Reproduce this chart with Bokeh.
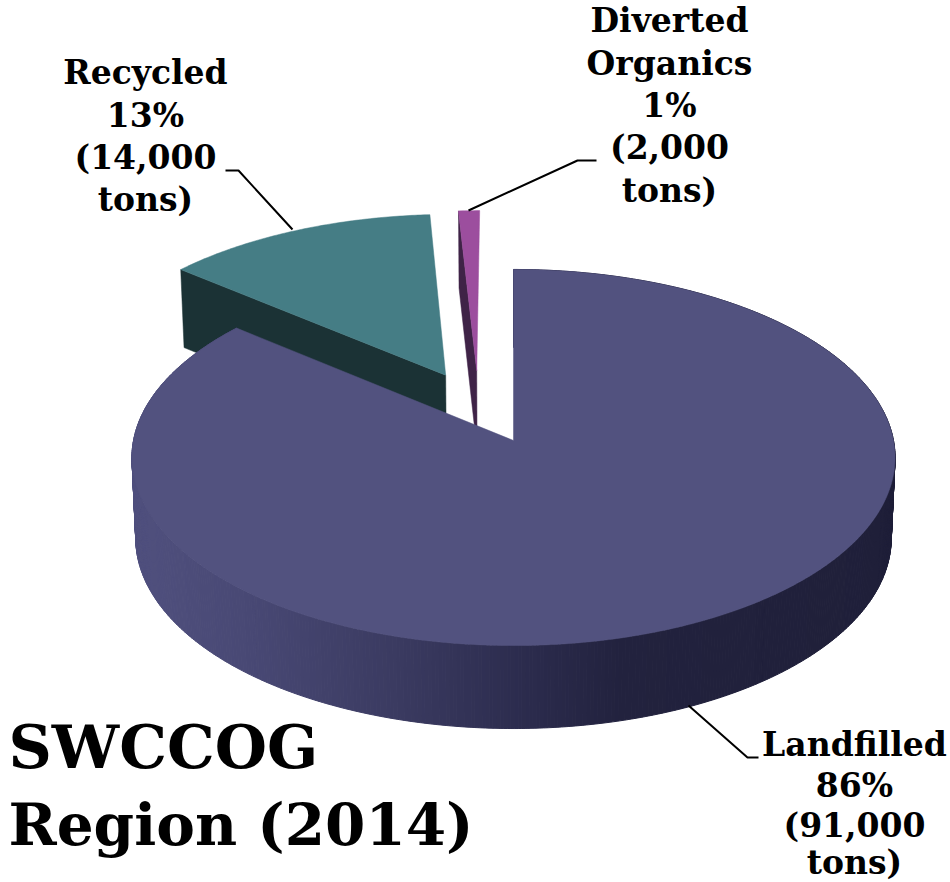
import numpy as np
from bokeh.plotting import figure
from bokeh.models import ColumnDataSource
from bokeh.core.properties import value
from bokeh.embed import file_html
from bokeh.resources import INLINE

# --- data
categories = ["Landfilled", "Recycled", "Diverted Organics"]
percents = [86, 13, 1]
tons = [91000, 14000, 2000]
title_lines = ["SWCCOG", "Region (2014)"]

# --- styles
top_colors = ["#52527F", "#457D85", "#9C4E9E"]
wall_colors = [None, "#1B3235", "#3F2347"]
explode = [(0.0, 0.0), (0.406, None), (0.40, -14.5)]  # radial distance, direction (None = slice middle)
FONT = "DejaVu Serif"

CX, CY, A, B, K = 513.0, 440.0, 186.5, 380.0, 0.0904


def project(u, v, low=False):
    u, v = np.asarray(u, float), np.asarray(v, float)
    s = 1 + K * v
    x = B * u / s
    y = -A * v / s
    if low:
        x = x * 0.99
        y = y + 80.5 - 2.5 * v
    return CX + x, CY + y


def mix(x):
    stops_x = [131, 250, 400, 520, 620, 890]
    stops = [(0x50, 0x50, 0x7E), (0x48, 0x48, 0x74), (0x3A, 0x3A, 0x60),
             (0x2C, 0x2C, 0x4E), (0x22, 0x22, 0x3E), (0x1F, 0x1F, 0x39)]
    return "#%02x%02x%02x" % tuple(int(round(np.interp(x, stops_x, [c[i] for c in stops]))) for i in range(3))


fractions = np.array(percents, float) / sum(percents)
ends = np.cumsum(fractions) * 2 * np.pi
starts = np.concatenate([[0.0], ends[:-1]])

p = figure(width=950, height=882, x_range=(0, 950), y_range=(882, 0),
           output_backend="svg", toolbar_location=None, min_border=0)
p.axis.visible = False
p.grid.visible = False
p.outline_line_color = None
p.background_fill_color = "white"
p.border_fill_color = "white"

slices = []
for i in range(3):
    dist, direction = explode[i]
    d = (starts[i] + ends[i]) / 2 if direction is None else np.radians(direction)
    ou, ov = dist * np.sin(d), dist * np.cos(d)
    th = np.linspace(starts[i], ends[i], max(8, int(fractions[i] * 720)))
    u = np.concatenate([[ou], ou + np.sin(th)])
    v = np.concatenate([[ov], ov + np.cos(th)])
    slices.append((u, v, th, ou, ov))

# exploded slices (walls and faces) sit behind the big slice
for i in (2, 1):
    u, v, th, ou, ov = slices[i]
    xa, ya = project(u, v)
    xb, yb = project(u, v, low=True)
    wx = [xa[0], xa[1], xb[1], xb[0]]
    wy = [ya[0], ya[1], yb[1], yb[0]]
    p.patch(wx, wy, fill_color=wall_colors[i], line_color=wall_colors[i], line_width=0.5)
    p.patch(xa.tolist(), ya.tolist(), fill_color=top_colors[i], line_color=top_colors[i], line_width=0.5)

# big slice: shaded outer wall, then the top face
u, v, th, ou, ov = slices[0]
xa, ya = project(np.sin(th), np.cos(th))
xb, yb = project(np.sin(th), np.cos(th), low=True)
xs, ys, cs = [], [], []
for j in range(len(th) - 1):
    xs.append([xa[j], xa[j + 1], xb[j + 1], xb[j]])
    ys.append([ya[j], ya[j + 1], yb[j + 1], yb[j]])
    cs.append(mix((xa[j] + xa[j + 1]) / 2))
p.patches(xs=xs, ys=ys, fill_color=cs, line_color=cs, line_width=1)
fx, fy = project(u, v)
p.patch(fx.tolist(), fy.tolist(), fill_color=top_colors[0], line_color=top_colors[0], line_width=0.5)

# leader lines
p.line([688, 747, 758], [705, 757, 757], line_color="black", line_width=2)
p.line([225, 238, 292], [170, 170, 229], line_color="black", line_width=2)
p.line([468, 577, 596], [210, 160, 160], line_color="black", line_width=2)

# labels
label_lines = []
label_lines.append(([categories[0], f"{percents[0]}%", f"({tons[0]:,}", "tons)"], 854, [744, 785, 825, 862]))
label_lines.append(([categories[1], f"{percents[1]}%", f"({tons[1]:,}", "tons)"], 145, [72, 115, 157, 199]))
label_lines.append((categories[2].split() + [f"{percents[2]}%", f"({tons[2]:,}", "tons)"], 669, [20, 63, 105, 147, 190]))
tx, ty, tt = [], [], []
for lines, x, yy in label_lines:
    for s, y in zip(lines, yy):
        tx.append(x); ty.append(y); tt.append(s)
p.text(x="x", y="y", text="t", source=ColumnDataSource(dict(x=tx, y=ty, t=tt)),
       text_font=value(FONT), text_font_style="bold", text_font_size="33px",
       text_align="center", text_baseline="middle", text_color="black")
p.text(x=[8], y=[746], text=title_lines[:1],
       text_font=value(FONT), text_font_style="bold", text_font_size="60px",
       text_align="left", text_baseline="middle", text_color="black")
p.text(x=[8], y=[824], text=title_lines[1:],
       text_font=value(FONT), text_font_style="bold", text_font_size="58px",
       text_align="left", text_baseline="middle", text_color="black")

open("out.html", "w").write(file_html(p, INLINE))
